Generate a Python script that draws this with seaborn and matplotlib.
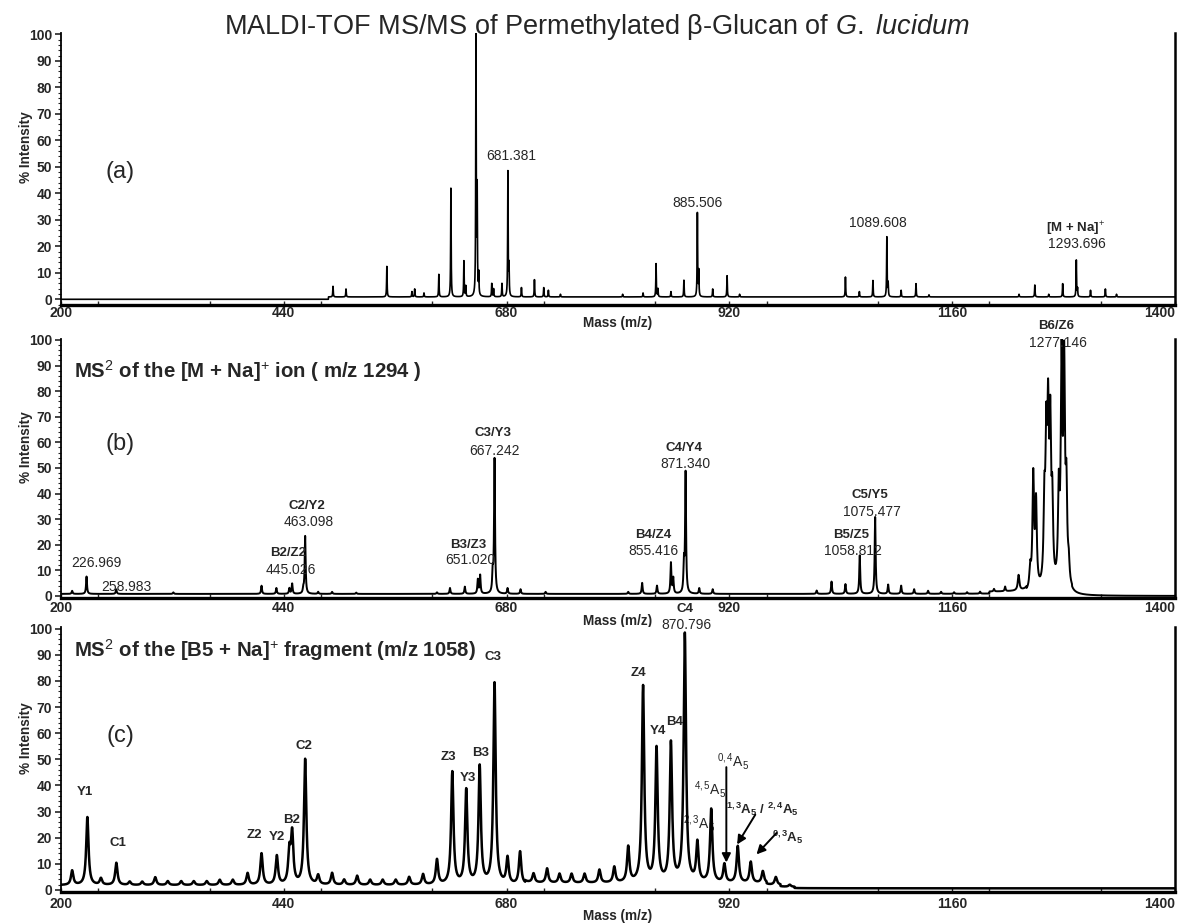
import numpy as np
import pandas as pd
import matplotlib
matplotlib.use("Agg")
import matplotlib.pyplot as plt
from matplotlib.ticker import MultipleLocator
import seaborn as sns

sns.set_style("ticks")
plt.rcParams["font.family"] = ["Liberation Sans", "DejaVu Sans"]
plt.rcParams["mathtext.fontset"] = "custom"
plt.rcParams["mathtext.rm"] = "Liberation Sans"
plt.rcParams["mathtext.it"] = "Liberation Sans:italic"
plt.rcParams["mathtext.bf"] = "Liberation Sans:bold"

# ---------------- data (peak lists) ----------------
# Panel (a): MS of permethylated beta-glucan
a_mz = [493, 507, 551, 578, 581, 591, 607, 620, 634, 636, 647, 648.3, 650, 664, 666,
        675, 681.4, 682.6, 696, 710, 720, 725, 738, 805, 827, 841, 843, 857, 871,
        885.5, 887, 902, 917.5, 931, 1045, 1060, 1074.6, 1089.6, 1091, 1105, 1121,
        1135, 1232, 1249, 1264, 1279, 1293.7, 1295, 1309, 1325, 1337]
a_int = [4, 3, 11.5, 2, 3, 1.5, 8.5, 41, 13.5, 4, 99, 39, 8, 5, 3,
         5, 47, 11, 3.5, 6.5, 3.5, 2.5, 1, 1, 1.5, 12.5, 3, 2, 6.3,
         31.5, 9.5, 3, 8, 1, 7.5, 2, 6.2, 22.5, 5, 2.5, 5,
         0.8, 1, 4.5, 1, 5, 13.8, 3, 2.5, 3, 1]
a_base = [(488, 1400, 0.9)]

# Panel (b): MS2 of [M + Na]+ (sharp fragments)
b_mz = [212, 227.5, 259.5, 321, 416, 432, 446, 449, 461, 463, 477, 492, 518, 605, 619,
        635, 649, 651.5, 665, 667, 681, 695, 722, 811, 826, 842, 857, 859.5, 871, 872.8,
        887.5, 902, 1014, 1030, 1045, 1060.4, 1077, 1091, 1105, 1119, 1134, 1148, 1162,
        1176, 1190, 1205, 1217]
b_int = [1.2, 6.8, 1.8, 0.6, 3.2, 2.3, 2.2, 4, 1.8, 22.5, 0.8, 0.8, 0.5, 0.6, 2.3,
         2.8, 5.5, 7.2, 7.5, 52.5, 2.2, 1.8, 0.8, 0.8, 4.3, 3.2, 12, 6, 11, 47,
         2.2, 1.8, 1.3, 4.8, 3.8, 15, 30, 3.6, 3.2, 1.8, 1.2, 0.8, 0.6,
         0.6, 0.8, 1.0, 1.8]
# Panel (b): broad B6/Z6 cluster near the precursor
b6_mz = [1231.5, 1244, 1247.3, 1250.3, 1259.3, 1261.3, 1263.3, 1265.6, 1267.8,
         1274.8, 1277.8, 1280.6, 1283, 1285.5]
b6_int = [6, 8, 44, 33, 30, 52, 60, 58, 30, 35, 85, 82, 35, 8]
b_base = [(200, 1200, 0.8), (1200, 1240, 1.6), (1240, 1289, 0.8)]

# Panel (c): MS2 of [B5 + Na]+
c_mz = [212, 228.4, 243, 259.6, 274, 287.5, 301.5, 315, 329.5, 343, 357, 371, 385, 401,
        416, 432.5, 446, 449, 463, 477, 492, 505, 519, 533, 546.5, 560.5, 575, 590, 605,
        621.5, 636.5, 651, 667, 681, 694.5, 709, 723.6, 737, 750, 764, 780, 796, 811,
        827, 841.5, 857, 872, 885.5, 900.4, 914.6, 929, 943, 956, 970, 985]
c_int = [5.5, 26, 2.5, 8.5, 1.3, 1.3, 3, 1.5, 1.5, 1.5, 1.5, 2, 2, 4.5,
         12, 11, 12, 19, 48, 3.5, 4.5, 2, 3.5, 2, 2, 2, 3, 4, 9.5,
         43, 36, 45, 77, 10, 12.5, 3.5, 5.5, 3.5, 3.5, 3.5, 5, 6, 13.5,
         75, 51, 53, 95, 15, 28, 7, 14, 8, 4.5, 3, 0.8]
c_base = [(200, 700, 1.8), (700, 960, 2.5), (960, 975, 1.8), (975, 990, 1.1),
          (990, 1400, 0.6)]

x_ticks = [200, 440, 680, 920, 1160, 1400]
y_ticks = [0, 10, 20, 30, 40, 50, 60, 70, 80, 90, 100]

# annotation texts
a_labels = [("681.381", 685, 54), ("885.506", 885.5, 36.5), ("1089.608", 1080, 28.8),
            ("1293.696", 1294.5, 21)]
b_bold = [("B2/Z2", 444.5, 16.7), ("C2/Y2", 465.1, 35.2), ("B3/Z3", 638.9, 19.8),
          ("C3/Y3", 665.7, 63.5), ("B4/Z4", 838.3, 23.8), ("C4/Y4", 870.8, 57.9),
          ("B5/Z5", 1050.8, 23.8), ("C5/Y5", 1071.7, 39.5), ("B6/Z6", 1272.1, 105.6)]
b_nums = [("226.969", 238.2, 12.8), ("258.983", 269.9, 3.6), ("445.026", 447.4, 10.2),
          ("463.098", 467.2, 29), ("651.020", 640.6, 14), ("667.242", 667.3, 56.8),
          ("855.416", 838.7, 17.6), ("871.340", 872.9, 51.6), ("1058.812", 1053.3, 17.6),
          ("1075.477", 1073.8, 32.7), ("1277.146", 1273.8, 99)]
c_bold = [("Y1", 225.5, 37.6), ("C1", 260.8, 17.8), ("Z2", 408.4, 21.1), ("Y2", 433, 20.2),
          ("B2", 448.7, 26.9), ("C2", 461.8, 55), ("Z3", 617.2, 50.8), ("Y3", 638, 42.7),
          ("B3", 652, 52.4), ("C3", 665.7, 89), ("Z4", 822, 83), ("Y4", 842.5, 61),
          ("B4", 861.2, 64.4), ("C4", 872, 107.7)]

# ---------------- helpers ----------------
grid = np.arange(200, 1400.001, 0.1)


def profile(mz, inten, gamma, segs, y=None):
    if y is None:
        y = np.zeros_like(grid)
        for s, e, lvl in segs:
            y[(grid >= s) & (grid < e)] = lvl
    for m, h in zip(mz, inten):
        y = y + h * gamma ** 2 / ((grid - m) ** 2 + gamma ** 2)
    return y


ya = profile(a_mz, a_int, 0.3, a_base)
yb = profile(b_mz, b_int, 0.6, b_base)
yb = profile(b6_mz, b6_int, 1.0, None, y=yb)
yc = profile(c_mz, c_int, 1.5, c_base)

dfa = pd.DataFrame({"mz": grid, "intensity": ya})
dfb = pd.DataFrame({"mz": grid, "intensity": yb})
dfc = pd.DataFrame({"mz": grid, "intensity": yc})

fig = plt.figure(figsize=(11.87, 9.24), dpi=100)
L, W = 61 / 1187, 1114 / 1187
ax_a = fig.add_axes([L, 1 - 305.4 / 924, W, 272.4 / 924])
ax_b = fig.add_axes([L, 1 - 598 / 924, W, 259.3 / 924])
ax_c = fig.add_axes([L, 1 - 892 / 924, W, 264.6 / 924])

specs = [(ax_a, dfa, 1.2, -2.3, 0.5, -0.040),
         (ax_b, dfb, 1.4, -0.8, 2.5, -0.062),
         (ax_c, dfc, 1.8, -0.8, 3.5, -0.064)]

for ax, df, lw, ylo, xpad, xly in specs:
    sns.lineplot(data=df, x="mz", y="intensity", ax=ax, color="black", linewidth=lw,
                 estimator=None, errorbar=None)
    ax.set_xlim(200, 1400)
    ax.set_ylim(ylo, 100.5)
    ax.set_xticks(x_ticks, labels=[str(v) for v in x_ticks],
                  fontweight="bold", fontsize=10)
    ax.set_yticks(y_ticks, labels=[str(v) for v in y_ticks],
                  fontweight="bold", fontsize=10)
    # keep the last tick label inside the figure
    ax.get_xticklabels()[-1].set_horizontalalignment("right")
    ax.xaxis.set_minor_locator(MultipleLocator(120))
    ax.yaxis.set_minor_locator(MultipleLocator(2))
    ax.tick_params(axis="x", which="both", direction="in", length=3, width=1, pad=xpad)
    ax.tick_params(axis="y", which="major", direction="out", length=4, width=1.2, pad=2.5)
    ax.tick_params(axis="y", which="minor", direction="out", length=2, width=0.8)
    ax.spines["top"].set_visible(False)
    ax.spines["left"].set_linewidth(1.3)
    ax.spines["bottom"].set_linewidth(2.4)
    ax.spines["right"].set_linewidth(1.8)
    for s in ax.spines.values():
        s.set_color("black")
    ax.set_xlabel("Mass (m/z)", fontweight="bold", fontsize=9.8)
    ax.set_ylabel("% Intensity", fontweight="bold", fontsize=9.8)
    ax.xaxis.set_label_coords(0.5, xly)
    ax.yaxis.set_label_coords(-0.0255, 0.58)
    ax.set_facecolor("white")

numc = "#262626"
# panel (a) annotations
for t, x, y in a_labels:
    ax_a.text(x, y, t, ha="center", va="center", fontsize=10, color=numc)
ax_a.text(1292.9, 26.7, "[M + Na]$^{+}$", ha="center", va="center", fontsize=9.5,
          fontweight="bold")
ax_a.text(263.7, 48, "(a)", ha="center", va="center", fontsize=17)

# panel (b) annotations
for t, x, y in b_bold:
    ax_b.text(x, y, t, ha="center", va="center", fontsize=9.5, fontweight="bold",
              clip_on=False)
for t, x, y in b_nums:
    ax_b.text(x, y, t, ha="center", va="center", fontsize=10, color=numc, clip_on=False)
ax_b.text(263.7, 59.4, "(b)", ha="center", va="center", fontsize=17)
ax_b.text(214, 88, "MS$^{2}$ of the [M + Na]$^{+}$ ion ( m/z 1294 )", ha="left",
          va="center", fontsize=14.7, fontweight="bold")

# panel (c) annotations
for t, x, y in c_bold:
    ax_c.text(x, y, t, ha="center", va="center", fontsize=9.5, fontweight="bold",
              clip_on=False)
ax_c.text(873.7, 101.4, "870.796", ha="center", va="center", fontsize=10, color=numc,
          clip_on=False)
ax_c.text(263.7, 58.8, "(c)", ha="center", va="center", fontsize=17)
ax_c.text(214, 92, "MS$^{2}$ of the [B5 + Na]$^{+}$ fragment (m/z 1058)", ha="left",
          va="center", fontsize=14.7, fontweight="bold")
ax_c.text(923.8, 49, r"$^{0,4}$A$_{5}$", ha="center", va="center", fontsize=10, color=numc)
ax_c.text(898.7, 38.6, r"$^{4,5}$A$_{5}$", ha="center", va="center", fontsize=10, color=numc)
ax_c.text(887.5, 25.3, r"$^{2,3}$A$_{5}$", ha="center", va="center", fontsize=10, color=numc,
          zorder=1)
ax_c.text(956, 31, r"$\mathbf{{}^{1,3}A_{5}\ /\ {}^{2,4}A_{5}}$", ha="center", va="center",
          fontsize=9.5)
ax_c.text(983.3, 20.2, r"$\mathbf{{}^{0,3}A_{5}}$", ha="center", va="center", fontsize=9.5)
arw = dict(arrowstyle="-|>", color="black", lw=1.4, mutation_scale=13, shrinkA=0, shrinkB=0)
ax_c.annotate("", xy=(916.7, 10.5), xytext=(916.7, 47), arrowprops=arw)
ax_c.annotate("", xy=(928.3, 17.4), xytext=(947.9, 28.8), arrowprops=arw)
ax_c.annotate("", xy=(949.2, 13.6), xytext=(970.8, 21.8), arrowprops=arw)

fig.text(0.503, 0.971, r"MALDI-TOF MS/MS of Permethylated β-Glucan of $\it{G.\ lucidum}$",
         ha="center", va="center", fontsize=19.5)

fig.savefig("out.png", dpi=100, facecolor="white")
